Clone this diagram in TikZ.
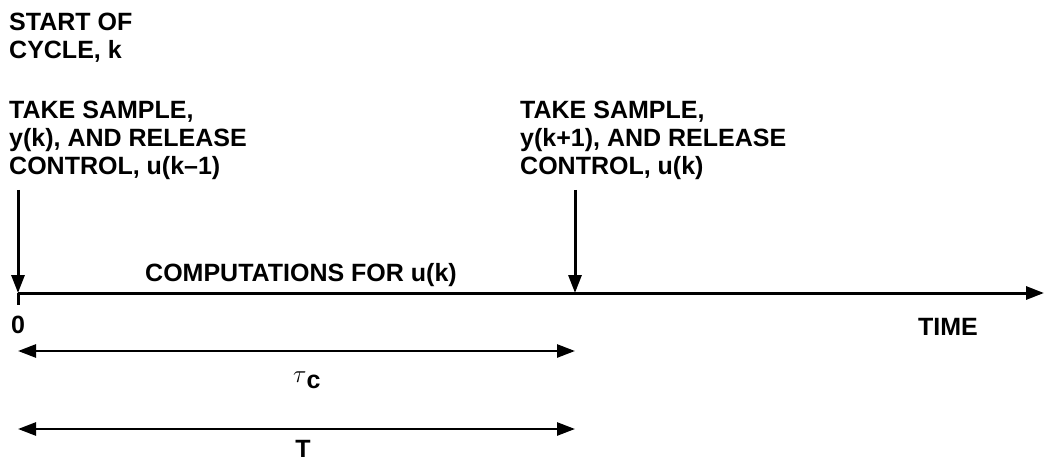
\documentclass[tikz,border=0pt]{standalone}
\usepackage{fontspec}
\setmainfont{Liberation Sans}
\usetikzlibrary{arrows.meta}
\begin{document}
\begin{tikzpicture}[x=1pt,y=-1pt,
  lbl/.style={font=\fontsize{25}{28}\selectfont\bfseries, inner sep=0pt, align=left},
  axisline/.style={line width=3pt},
  dimline/.style={line width=2.6pt},
  tip/.style={-{Triangle[length=18pt,width=13pt]}},
  dtip/.style={{Triangle[length=18pt,width=13pt]}-{Triangle[length=18pt,width=13pt]}}]
\useasboundingbox (0,0) rectangle (1048,462);

% event labels
\node[lbl, anchor=north west] (start) at (9,13) {START OF\\CYCLE, k};
\node[lbl, anchor=north west] (samp0) at (9,101) {TAKE SAMPLE,\\y(k), AND RELEASE\\CONTROL, u(k–1)};
\node[lbl, anchor=north west] (samp1) at (520,101) {TAKE SAMPLE,\\y(k+1), AND RELEASE\\CONTROL, u(k)};

% time axis and sampling instants
\coordinate (o) at (18,293);
\coordinate (p) at (575,293);
\coordinate (tend) at (1044,293);
\coordinate (a0) at (18,190);
\coordinate (a1) at (575,190);
\coordinate (tick) at (18,305);
\draw[axisline] (o) -- (tick);
\draw[axisline,tip] (o) -- (tend);
\draw[axisline,tip] (a0) -- (o);
\draw[axisline,tip] (a1) -- (p);

\node[lbl, anchor=base west] (comp) at (145,281) {COMPUTATIONS FOR u(k)};
\node[lbl] (zero) at (18,325) {0};
\node[lbl] (time) at (948,327) {TIME};

% computation delay and sampling period
\coordinate (tc0) at (18,351);
\coordinate (tc1) at (575,351);
\draw[dimline,dtip] (tc0) -- (tc1);
\node[lbl, anchor=base west] (tau) at (293,382) {$\tau$\raisebox{-6pt}{c}};

\coordinate (T0) at (18,429);
\coordinate (T1) at (575,429);
\draw[dimline,dtip] (T0) -- (T1);
\node[lbl, anchor=base] (per) at (303,457) {T};
\end{tikzpicture}
\end{document}
